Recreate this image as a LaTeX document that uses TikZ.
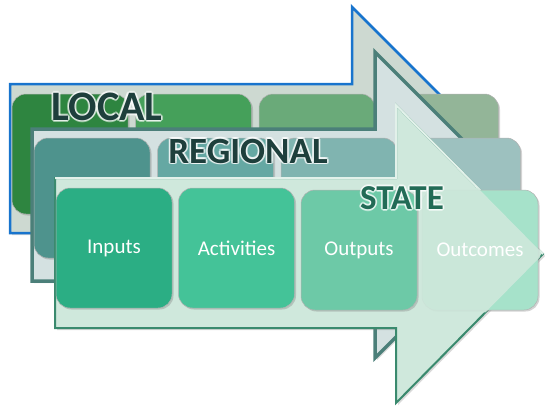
\documentclass[tikz,border=0pt]{standalone}
\usepackage{fontspec}
\setmainfont{Carlito}
\usepackage{xcolor}
\usepackage{tikz}
\usetikzlibrary{positioning,shadows}

\definecolor{loline}{HTML}{1874CD}
\definecolor{lofill}{HTML}{CDD9D1}
\definecolor{reline}{HTML}{4B7F79}
\definecolor{refill}{HTML}{D4E1E1}
\definecolor{stline}{HTML}{3A8A6E}
\definecolor{stfill}{HTML}{CFE8DC}
\definecolor{loA}{HTML}{2E8540}
\definecolor{loB}{HTML}{45A05A}
\definecolor{loC}{HTML}{6AAA79}
\definecolor{loD}{HTML}{93B598}
\definecolor{reA}{HTML}{4E938D}
\definecolor{reB}{HTML}{65A8A3}
\definecolor{reC}{HTML}{80B4B0}
\definecolor{reD}{HTML}{9DC1BF}
\definecolor{stA}{HTML}{2BAE84}
\definecolor{stB}{HTML}{44C398}
\definecolor{stC}{HTML}{6DC9A7}
\definecolor{stD}{HTML}{A6E2CA}
\definecolor{titledark}{HTML}{1E3F3C}
\definecolor{titlestate}{HTML}{226B56}

\begin{document}
\begin{tikzpicture}[x=1pt,y=-1pt]
	\tikzstyle{box}=[rounded corners=14pt, minimum width=116pt, minimum height=120pt, inner sep=0pt, draw=black!30, line width=0.5pt, drop shadow={shadow xshift=1.5pt, shadow yshift=-1.5pt, opacity=0.35}, text=white, font=\fontsize{21}{25}\selectfont]
	\tikzstyle{band}=[line join=miter, drop shadow={shadow xshift=2pt, shadow yshift=-2pt, opacity=0.3}]
	\tikzstyle{title}=[inner sep=0pt, font=\bfseries\fontsize{37}{44}\selectfont]
	\tikzstyle{glow}=[title, text=white, opacity=0.5]
	\useasboundingbox (0,0) rectangle (545,408);

	% local level
	\draw[band, fill=lofill, draw=loline, line width=2.5pt] (10,84) -- (352,84) -- (352,7) -- (503,158) -- (352,309) -- (352,233) -- (10,233) -- cycle;
	\node[box, fill=loA] (l1) at (70,154) {};
	\node[box, fill=loB, right=7pt of l1] (l2) {};
	\node[box, fill=loC, right=7pt of l2] (l3) {};
	\node[box, fill=loD, right=7pt of l3] (l4) {};
	\foreach \a in {0,45,...,315}
		\node[glow, font=\bfseries\fontsize{42}{50}\selectfont] at ([shift={(\a:1.8)}]107,107) {LOCAL};
	\node[title, text=titledark, font=\bfseries\fontsize{42}{50}\selectfont] (local) at (107,107) {LOCAL};

	% regional level
	\draw[band, fill=refill, draw=reline, line width=3.5pt] (32,129) -- (375,129) -- (375,52) -- (528,205) -- (375,358) -- (375,281) -- (32,281) -- cycle;
	\node[box, fill=reA] (r1) at (92,198) {};
	\node[box, fill=reB, right=7pt of r1] (r2) {};
	\node[box, fill=reC, right=7pt of r2] (r3) {};
	\node[box, fill=reD, right=7pt of r3] (r4) {};
	\foreach \a in {0,45,...,315}
		\node[glow] at ([shift={(\a:1.8)}]248,151) {REGIONAL};
	\node[title, text=titledark] (regional) at (248,151) {REGIONAL};

	% state level
	\draw[band, fill=stfill, draw=stline, line width=2pt] (55,178) -- (396,178) -- (396,105) -- (543,254) -- (396,403) -- (396,328) -- (55,328) -- cycle;
	\draw[stfill!60!white, line width=2pt, line join=miter] (55,178) -- (396,178) -- (396,105) -- (543,254);
	\node[box, fill=stD] (s4) at (480,250) {};
	\begin{scope}
		\clip (396,105) -- (543,254) -- (396,403) -- cycle;
		\fill[stfill, opacity=0.88, rounded corners=14pt] ([xshift=-2pt,yshift=2pt]s4.north west) rectangle ([xshift=2pt,yshift=-2pt]s4.south east);
	\end{scope}
	\node[box, fill=stA] (s1) at (114,248) {Inputs};
	\node[box, fill=stB, right=6pt of s1] (s2) {Activities};
	\node[box, fill=stC, right=6pt of s2, yshift=-2pt] (s3) {Outputs};
	\node[text=white, font=\fontsize{21}{25}\selectfont] at (s4) {Outcomes};
	\foreach \a in {0,45,...,315}
		\node[glow, font=\bfseries\fontsize{35}{42}\selectfont] at ([shift={(\a:1.8)}]402,198) {STATE};
	\node[title, text=titlestate, font=\bfseries\fontsize{35}{42}\selectfont] (state) at (402,198) {STATE};
\end{tikzpicture}
\end{document}
